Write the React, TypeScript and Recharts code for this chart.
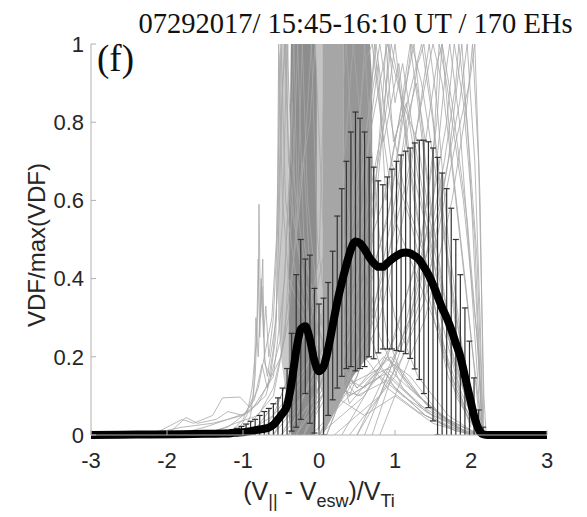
import React from 'react';
import { ComposedChart, Line, Area, Scatter, ErrorBar, XAxis, YAxis } from 'recharts';

const W = 587;
const H = 517;
const PLOT_LEFT = 91;
const PLOT_TOP = 44;
const PLOT_W = 456;
const PLOT_H = 391;

const titleText = '07292017/ 15:45-16:10 UT / 170 EHs';
const panelLabel = '(f)';
const xTicks = [-3, -2, -1, 0, 1, 2, 3];
const yTicks = [0, 0.2, 0.4, 0.6, 0.8, 1];

// grid of the averaged VDF (step 0.06 V_Ti)
const gridX = [
  -1.2, -1.14, -1.08, -1.02, -0.96, -0.9, -0.84, -0.78, -0.72, -0.66, -0.6, -0.54, -0.48, -0.42, -0.36,
  -0.3, -0.24, -0.18, -0.12, -0.06, 0, 0.06, 0.12, 0.18, 0.24, 0.3, 0.36, 0.42, 0.48, 0.54, 0.6, 0.66,
  0.72, 0.78, 0.84, 0.9, 0.96, 1.02, 1.08, 1.14, 1.2, 1.26, 1.32, 1.38, 1.44, 1.5, 1.56, 1.62, 1.68,
  1.74, 1.8, 1.86, 1.92, 1.98, 2.04, 2.1, 2.16,
];
const meanVdf = [
  0.004, 0.005, 0.006, 0.007, 0.008, 0.01, 0.012, 0.014, 0.016, 0.019, 0.026, 0.04, 0.055, 0.075, 0.135,
  0.215, 0.27, 0.278, 0.245, 0.19, 0.163, 0.175, 0.22, 0.28, 0.34, 0.39, 0.435, 0.475, 0.495, 0.49, 0.475, 0.455,
  0.44, 0.43, 0.43, 0.44, 0.45, 0.458, 0.465, 0.467, 0.465, 0.458, 0.448, 0.43, 0.41, 0.385, 0.355, 0.325, 0.3,
  0.27, 0.235, 0.2, 0.15, 0.1, 0.05, 0.015, 0.002,
];
// top of each error bar (mean + std)
const upperCap = [
  0.012, 0.014, 0.017, 0.022, 0.028, 0.035, 0.04, 0.05, 0.06, 0.068, 0.08, 0.095, 0.12, 0.17, 0.26,
  0.41, 0.5, 0.45, 0.46, 0.375, 0.335, 0.35, 0.39, 0.47, 0.56, 0.63, 0.7, 0.775, 0.826, 0.81, 0.775, 0.71,
  0.685, 0.65, 0.64, 0.66, 0.68, 0.7, 0.716, 0.726, 0.734, 0.747, 0.754, 0.754, 0.75, 0.734, 0.71, 0.67, 0.63,
  0.58, 0.5, 0.41, 0.325, 0.24, 0.146, 0.064, 0.02,
];
const meanLeftX = [-3, -2.4, -1.8, -1.5, -1.26];
const meanLeftY = [0, 0.001, 0.002, 0.003, 0.004];
const meanRightX = [2.22, 3];
const meanRightY = [0, 0];

// dense overlapping EH curves: [x, low, high]
const bandDarkLeft = [[-0.4, 0.05, 0.55], [-0.37, 0, 1], [-0.05, 0, 1], [-0.03, 0.1, 0.92]];
const bandLightLeft = [[-0.54, 0.3, 0.95], [-0.5, 0.2, 1], [-0.4, 0.05, 1]];
const bandLightMid = [[-0.05, 0.15, 1], [0.06, 0.1, 1]];
const bandMidLeft = [[0.05, 0, 1], [0.32, 0.1, 1]];
const bandDarkRight = [[0.32, 0.1, 1], [0.45, 0.15, 1], [0.6, 0.19, 1], [0.67, 0.2, 1], [0.7, 0.3, 0.9]];

// individual EH distributions (each normalised to 1)
const curveL1 = [[-2.3, 0], [-1.8, 0.02], [-1.4, 0.03], [-1.0, 0.05], [-0.7, 0.1], [-0.5, 0.25], [-0.4, 0.6], [-0.33, 1], [-0.28, 0.55], [-0.2, 0.7], [-0.1, 0.35], [0.1, 0.2], [0.4, 0.1], [0.8, 0.15], [1.1, 0.1], [1.5, 0.05], [1.9, 0.02], [2.15, 0]];
const curveL2 = [[-1.9, 0], [-1.5, 0.02], [-1.2, 0.04], [-0.9, 0.06], [-0.6, 0.15], [-0.45, 0.4], [-0.35, 0.85], [-0.3, 0.5], [-0.22, 1], [-0.15, 0.6], [0.0, 0.3], [0.3, 0.15], [0.6, 0.12], [0.9, 0.2], [1.2, 0.12], [1.6, 0.05], [2.1, 0]];
const curveL3 = [[-1.6, 0], [-1.2, 0.02], [-0.8, 0.08], [-0.5, 0.2], [-0.3, 0.5], [-0.18, 0.75], [-0.1, 1], [-0.02, 0.5], [0.1, 0.3], [0.4, 0.08], [0.7, 0.15], [1.0, 0.18], [1.3, 0.1], [1.7, 0.04], [2.1, 0]];
const curveL4 = [[-1.3, 0], [-0.9, 0.03], [-0.6, 0.1], [-0.4, 0.3], [-0.25, 0.65], [-0.12, 0.8], [-0.05, 1], [0.05, 0.55], [0.2, 0.2], [0.5, 0.12], [0.85, 0.2], [1.2, 0.15], [1.6, 0.05], [2.0, 0]];
const curveL5 = [[-1.5, 0], [-1.1, 0.03], [-0.8, 0.05], [-0.6, 0.12], [-0.45, 0.25], [-0.35, 0.6], [-0.28, 1], [-0.2, 0.5], [-0.05, 0.3], [0.2, 0.12], [0.55, 0.1], [0.9, 0.17], [1.3, 0.1], [1.8, 0.02], [2.1, 0]];
const curveS1 = [[-1.0, 0], [-0.9, 0.05], [-0.84, 0.15], [-0.8, 0.35], [-0.79, 0.59], [-0.77, 0.3], [-0.74, 0.45], [-0.72, 0.2], [-0.68, 0.15], [-0.6, 0.25], [-0.56, 0.3], [-0.53, 1], [-0.48, 0.6], [-0.4, 0.4], [-0.2, 0.3], [0.2, 0.1], [0.6, 0.05], [1.0, 0.1], [1.5, 0.03], [2.0, 0]];
const curveS2 = [[-1.2, 0], [-1.0, 0.04], [-0.86, 0.1], [-0.83, 0.3], [-0.8, 0.2], [-0.76, 0.4], [-0.73, 0.25], [-0.7, 0.33], [-0.66, 0.2], [-0.6, 0.3], [-0.55, 0.5], [-0.5, 0.8], [-0.45, 1], [-0.4, 0.7], [-0.3, 0.5], [-0.1, 0.25], [0.3, 0.12], [0.8, 0.17], [1.3, 0.08], [1.8, 0.02], [2.1, 0]];
const curveS3 = [[-1.1, 0], [-0.95, 0.05], [-0.88, 0.12], [-0.82, 0.25], [-0.8, 0.45], [-0.78, 0.25], [-0.75, 0.38], [-0.71, 0.18], [-0.64, 0.15], [-0.57, 0.25], [-0.52, 0.6], [-0.48, 0.9], [-0.44, 1], [-0.38, 0.6], [-0.2, 0.4], [0.1, 0.2], [0.5, 0.1], [0.9, 0.14], [1.4, 0.05], [2.0, 0]];
const curveT1 = [[-2.35, 0], [-2.1, 0.01], [-1.8, 0.04], [-1.65, 0.03], [-1.4, 0.05], [-1.27, 0.095], [-1.04, 0.097], [-0.91, 0.07], [-0.8, 0.12], [-0.7, 0.22], [-0.62, 0.3], [-0.56, 0.5], [-0.5, 1], [-0.44, 0.6], [-0.3, 0.4], [0.0, 0.2], [0.4, 0.1], [0.9, 0.16], [1.4, 0.06], [2.0, 0]];
const curveT2 = [[-2.0, 0], [-1.75, 0.045], [-1.6, 0.03], [-1.35, 0.04], [-1.2, 0.06], [-1.0, 0.05], [-0.85, 0.09], [-0.75, 0.18], [-0.68, 0.12], [-0.6, 0.22], [-0.48, 0.55], [-0.42, 1], [-0.36, 0.7], [-0.2, 0.45], [0.1, 0.25], [0.5, 0.12], [0.95, 0.2], [1.4, 0.08], [1.9, 0.01], [2.1, 0]];
const curveM1 = [[-1.0, 0], [-0.6, 0.05], [-0.3, 0.2], [-0.1, 0.3], [0.1, 0.5], [0.2, 0.8], [0.25, 1], [0.32, 0.7], [0.45, 0.45], [0.6, 0.3], [0.8, 0.18], [1.0, 0.12], [1.4, 0.05], [1.8, 0.01], [2.1, 0]];
const curveM2 = [[-0.8, 0], [-0.4, 0.1], [-0.1, 0.2], [0.15, 0.4], [0.35, 0.75], [0.45, 1], [0.55, 0.8], [0.7, 0.5], [0.9, 0.25], [1.1, 0.15], [1.5, 0.06], [2.0, 0]];
const curveM3 = [[-0.7, 0], [-0.3, 0.08], [0.0, 0.15], [0.3, 0.35], [0.5, 0.7], [0.6, 1], [0.68, 0.75], [0.8, 0.5], [1.0, 0.3], [1.3, 0.15], [1.7, 0.05], [2.1, 0]];
const curveM4 = [[-0.9, 0], [-0.5, 0.1], [-0.2, 0.25], [0.0, 0.45], [0.08, 1], [0.15, 0.6], [0.3, 0.4], [0.6, 0.2], [0.9, 0.12], [1.3, 0.06], [1.8, 0.01]];
const curveM5 = [[-0.6, 0], [-0.2, 0.15], [0.05, 0.3], [0.2, 0.55], [0.3, 0.85], [0.36, 1], [0.42, 0.8], [0.55, 0.5], [0.8, 0.25], [1.1, 0.12], [1.6, 0.03], [2.0, 0]];
const curveC1 = [[-0.6, 0], [-0.2, 0.1], [0.2, 0.3], [0.5, 0.55], [0.75, 1], [0.95, 0.7], [1.2, 0.55], [1.45, 0.35], [1.7, 0.15], [2.0, 0.03], [2.15, 0]];
const curveC2 = [[-0.4, 0], [0.0, 0.12], [0.4, 0.3], [0.7, 0.6], [0.9, 0.85], [1.0, 1], [1.15, 0.75], [1.35, 0.5], [1.6, 0.25], [1.9, 0.08], [2.12, 0]];
const curveC3 = [[-0.5, 0], [0.0, 0.1], [0.35, 0.25], [0.6, 0.45], [0.85, 0.6], [1.05, 0.8], [1.2, 1], [1.3, 0.85], [1.45, 0.6], [1.7, 0.3], [2.0, 0.08], [2.15, 0]];
const curveC4 = [[-0.3, 0], [0.2, 0.15], [0.5, 0.4], [0.68, 0.8], [0.78, 0.95], [0.88, 0.6], [1.0, 0.75], [1.25, 1], [1.4, 0.7], [1.6, 0.4], [1.85, 0.15], [2.1, 0]];
const curveC5 = [[-0.2, 0], [0.3, 0.2], [0.6, 0.35], [0.9, 0.55], [1.1, 0.8], [1.35, 1], [1.5, 0.8], [1.65, 0.5], [1.85, 0.2], [2.1, 0]];
const curveC6 = [[-0.4, 0], [0.0, 0.2], [0.4, 0.55], [0.6, 0.95], [0.7, 1], [0.85, 0.75], [1.05, 0.95], [1.2, 0.7], [1.45, 0.5], [1.7, 0.25], [2.0, 0.05], [2.15, 0]];
const curveC7 = [[-0.1, 0], [0.4, 0.1], [0.8, 0.3], [1.1, 0.55], [1.3, 0.8], [1.45, 1], [1.55, 0.85], [1.7, 0.5], [1.9, 0.2], [2.12, 0]];
const curveC8 = [[-0.5, 0], [0.1, 0.2], [0.5, 0.6], [0.8, 0.9], [0.9, 1], [1.1, 0.85], [1.3, 0.75], [1.5, 0.5], [1.75, 0.2], [2.1, 0]];
const curveC9 = [[-0.3, 0], [0.3, 0.25], [0.65, 0.6], [0.8, 0.75], [0.95, 1], [1.05, 0.9], [1.25, 0.6], [1.5, 0.35], [1.8, 0.1], [2.1, 0]];
const curveC10 = [[0.0, 0], [0.5, 0.2], [0.75, 0.45], [0.95, 0.6], [1.15, 0.9], [1.22, 1], [1.35, 0.9], [1.55, 0.65], [1.8, 0.3], [2.12, 0]];
const curveC11 = [[-0.4, 0], [0.2, 0.3], [0.55, 0.7], [0.72, 0.9], [0.8, 1], [0.95, 0.8], [1.15, 0.6], [1.4, 0.45], [1.65, 0.2], [2.0, 0.02]];
const curveC12 = [[0.1, 0], [0.6, 0.25], [0.9, 0.45], [1.15, 0.65], [1.4, 0.9], [1.5, 1], [1.62, 0.9], [1.8, 0.6], [2.0, 0.25], [2.15, 0]];
const curveC13 = [[-0.2, 0], [0.4, 0.2], [0.7, 0.5], [0.85, 0.8], [0.92, 1], [1.0, 0.85], [1.1, 0.95], [1.3, 0.7], [1.55, 0.4], [1.85, 0.12], [2.12, 0]];
const curveC14 = [[0.0, 0], [0.5, 0.15], [0.8, 0.35], [1.0, 0.55], [1.1, 0.7], [1.3, 0.95], [1.38, 1], [1.48, 0.85], [1.7, 0.45], [1.95, 0.12], [2.14, 0]];
const curveC15 = [[-0.3, 0], [0.3, 0.18], [0.6, 0.4], [0.75, 0.65], [0.85, 0.9], [0.88, 1], [0.98, 0.75], [1.15, 0.85], [1.35, 0.6], [1.6, 0.3], [1.9, 0.08], [2.1, 0]];
const curveC16 = [[0.1, 0], [0.7, 0.3], [1.0, 0.6], [1.15, 0.8], [1.28, 0.9], [1.4, 0.75], [1.55, 0.95], [1.62, 1], [1.75, 0.7], [1.95, 0.35], [2.13, 0]];
const curveC17 = [[-0.2, 0], [0.3, 0.3], [0.6, 0.6], [0.68, 0.85], [0.73, 1], [0.82, 0.8], [1.0, 0.55], [1.2, 0.45], [1.5, 0.3], [1.8, 0.12], [2.1, 0]];
const curveR1 = [[0.2, 0], [0.8, 0.1], [1.2, 0.3], [1.5, 0.6], [1.65, 0.9], [1.72, 1], [1.85, 0.8], [2.0, 0.4], [2.12, 0.05], [2.16, 0]];
const curveR2 = [[0.4, 0], [1.0, 0.15], [1.4, 0.35], [1.7, 0.7], [1.88, 1], [1.98, 0.7], [2.08, 0.3], [2.15, 0]];
const curveR3 = [[0.0, 0], [0.6, 0.1], [1.0, 0.25], [1.35, 0.5], [1.55, 0.8], [1.62, 1], [1.75, 0.85], [1.95, 0.55], [2.1, 0.2], [2.15, 0]];
const curveR4 = [[0.5, 0], [1.1, 0.2], [1.5, 0.45], [1.8, 0.75], [1.98, 0.9], [2.05, 1], [2.12, 0.6], [2.17, 0]];
const curveR5 = [[0.6, 0], [1.2, 0.3], [1.6, 0.6], [1.85, 0.85], [1.95, 1], [2.05, 0.7], [2.12, 0.3], [2.16, 0]];
const curveR6 = [[0.3, 0], [0.9, 0.2], [1.3, 0.45], [1.5, 0.7], [1.58, 1], [1.68, 0.9], [1.9, 0.6], [2.08, 0.25], [2.15, 0]];
const curveR7 = [[0.7, 0], [1.3, 0.35], [1.65, 0.7], [1.8, 0.9], [1.84, 1], [1.95, 0.8], [2.08, 0.45], [2.16, 0]];
const curveR8 = [[0.5, 0], [1.1, 0.25], [1.45, 0.55], [1.68, 0.8], [1.78, 1], [1.9, 0.85], [2.05, 0.5], [2.15, 0]];
const curveR9 = [[0.8, 0], [1.4, 0.3], [1.75, 0.6], [1.95, 0.85], [2.02, 1], [2.1, 0.7], [2.17, 0.1], [2.2, 0]];

const greyCurves = [
  curveL1, curveL2, curveL3, curveL4, curveL5, curveS1, curveS2, curveS3, curveT1, curveT2,
  curveM1, curveM2, curveM3, curveM4, curveM5, curveC1, curveC2, curveC3, curveC4,
  curveC5, curveC6, curveC7, curveC8, curveC9, curveC10, curveC11, curveC12,
  curveC13, curveC14, curveC15, curveC16, curveC17,
  curveR1, curveR2, curveR3, curveR4, curveR5, curveR6, curveR7, curveR8, curveR9,
];

const bands = [
  { pts: bandLightLeft, fill: '#c9c9c9' },
  { pts: bandLightMid, fill: '#c4c4c4' },
  { pts: bandDarkLeft, fill: '#8d8d8d' },
  { pts: bandMidLeft, fill: '#a6a6a6' },
  { pts: bandDarkRight, fill: '#969696' },
];

const toPoints = (pairs: number[][]) => pairs.map(([x, y]) => ({ x, y }));
const toBand = (rows: number[][]) => rows.map(([x, lo, hi]) => ({ x, r: [lo, hi] }));

const errData = gridX.map((x, i) => {
  const std = upperCap[i] - meanVdf[i];
  return { x, y: meanVdf[i], err: [std, std] };
});

const meanData = [
  ...meanLeftX.map((x, i) => ({ x, y: meanLeftY[i] })),
  ...gridX.map((x, i) => ({ x, y: meanVdf[i] })),
  ...meanRightX.map((x, i) => ({ x, y: meanRightY[i] })),
];

const sans = '"Liberation Sans", Arial, Helvetica, sans-serif';
const serif = '"Liberation Serif", "Times New Roman", serif';
const tickStyle = { fill: '#262626', fontSize: 22, fontFamily: sans };
const subStyle = { fontSize: 18, verticalAlign: '-0.4em', lineHeight: 0 };

const NoDot = () => <g />;

export default function App() {
  return (
    <div style={{ position: 'absolute', left: 0, top: 0, width: W, height: H, background: '#fff' }}>
      <ComposedChart
        width={W}
        height={H}
        margin={{ top: PLOT_TOP, right: W - PLOT_LEFT - PLOT_W, bottom: H - PLOT_TOP - PLOT_H - 30, left: PLOT_LEFT - 60 }}
      >
        <defs>
          <clipPath id="plotClip">
            <rect x={PLOT_LEFT} y={PLOT_TOP} width={PLOT_W} height={PLOT_H} />
          </clipPath>
        </defs>
        <XAxis
          dataKey="x"
          type="number"
          domain={[-3, 3]}
          ticks={xTicks}
          allowDataOverflow
          height={30}
          tickSize={-5}
          tickMargin={22}
          stroke="#b0b0b0"
          tick={tickStyle}
        />
        <YAxis
          yAxisId="main"
          type="number"
          domain={[0, 1]}
          ticks={yTicks}
          allowDataOverflow
          width={60}
          tickSize={-5}
          tickMargin={12}
          stroke="#b0b0b0"
          tick={tickStyle}
        />
        <YAxis yAxisId="mean" type="number" domain={[0, 1]} hide />
        {bands.map((b, i) => (
          <Area
            key={`band-${i}`}
            yAxisId="main"
            data={toBand(b.pts)}
            dataKey="r"
            type="linear"
            stroke="none"
            fill={b.fill}
            fillOpacity={1}
            isAnimationActive={false}
          />
        ))}
        {greyCurves.map((c, i) => (
          <Line
            key={`eh-${i}`}
            yAxisId="main"
            data={toPoints(c)}
            dataKey="y"
            type="linear"
            stroke="#a8a8a8"
            strokeOpacity={0.8}
            strokeWidth={1}
            dot={false}
            isAnimationActive={false}
          />
        ))}
        <Scatter yAxisId="main" data={errData} dataKey="y" shape={NoDot} isAnimationActive={false}>
          <ErrorBar
            dataKey="err"
            direction="y"
            width={3}
            stroke="#333"
            strokeWidth={1.2}
            clipPath="url(#plotClip)"
          />
        </Scatter>
        <Line
          yAxisId="mean"
          data={meanData}
          dataKey="y"
          type="monotone"
          stroke="#000"
          strokeWidth={8}
          strokeLinejoin="round"
          dot={false}
          isAnimationActive={false}
        />
      </ComposedChart>

      <div style={{ position: 'absolute', left: 0, top: 10, width: 711, textAlign: 'center', fontFamily: serif, fontSize: 28.5, lineHeight: '28px', color: '#111', whiteSpace: 'nowrap' }}>
        {titleText}
      </div>
      <div style={{ position: 'absolute', left: 97, top: 40, fontFamily: serif, fontSize: 37, lineHeight: '37px', color: '#111' }}>
        {panelLabel}
      </div>
      <div style={{ position: 'absolute', left: 37 - 110, top: 245 - 14, width: 220, height: 28, lineHeight: '28px', textAlign: 'center', transform: 'rotate(-90deg)', fontFamily: sans, fontSize: 24, color: '#262626', whiteSpace: 'nowrap' }}>
        VDF/max(VDF)
      </div>
      <div style={{ position: 'absolute', left: 119, top: 477, width: 400, textAlign: 'center', fontFamily: sans, fontSize: 25, lineHeight: '28px', color: '#262626', whiteSpace: 'nowrap' }}>
        (V<sub style={subStyle}>||</sub> - V<sub style={subStyle}>esw</sub>)/V<sub style={subStyle}>Ti</sub>
      </div>
    </div>
  );
}
